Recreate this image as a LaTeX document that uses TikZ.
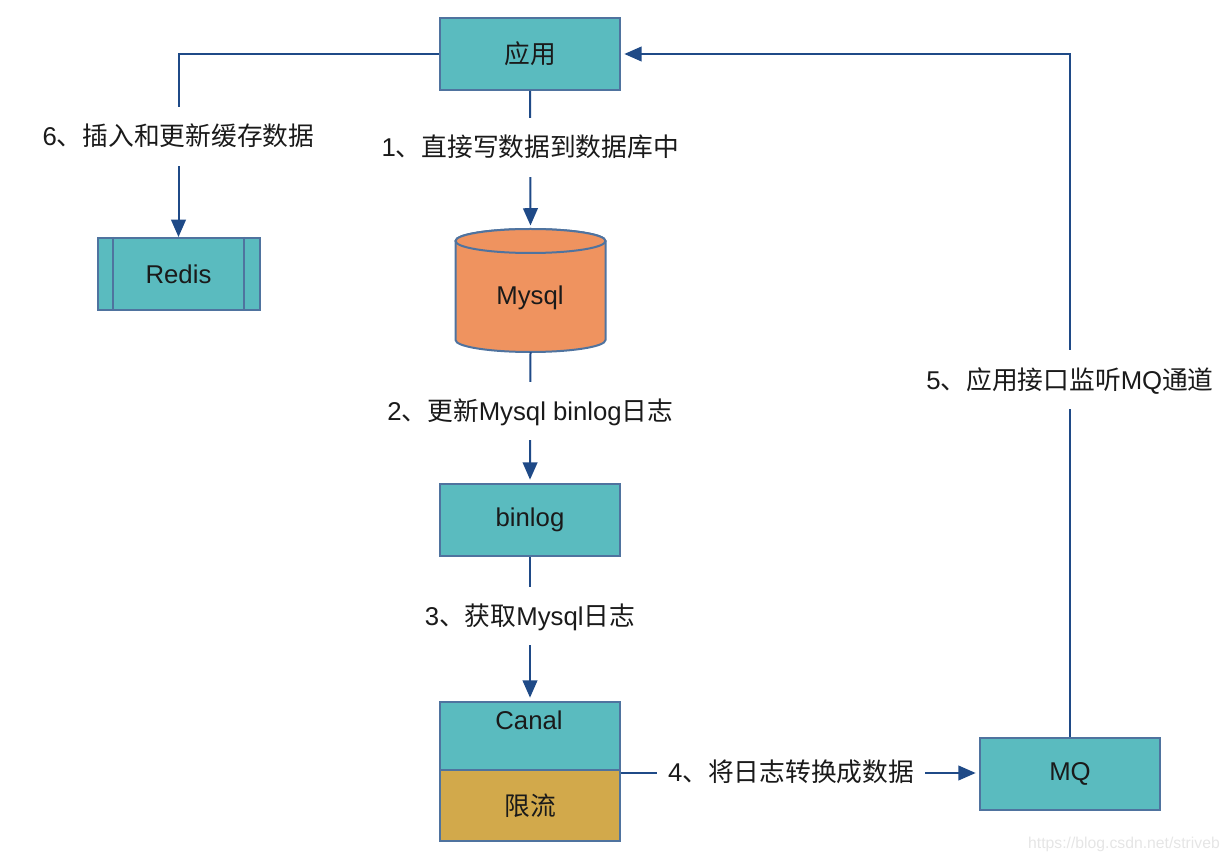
\documentclass[tikz,border=0pt]{standalone}
\usepackage{fontspec}
\setmainfont{Liberation Sans}
\newfontfamily\cjk{Noto Sans CJK SC}
\usetikzlibrary{arrows.meta,calc}
\definecolor{teal1}{HTML}{5ABBBF}
\definecolor{orange1}{HTML}{EF935F}
\definecolor{gold1}{HTML}{D2A94B}
\definecolor{edge1}{HTML}{4F739F}
\definecolor{arrow1}{HTML}{1F4A87}
\definecolor{text1}{HTML}{1A1A1A}
\tikzset{
  x=0.75pt,y=-0.75pt,
  every node/.style={font=\fontsize{19.3}{23}\selectfont,text=text1},
  box/.style={draw=edge1,line width=1.5pt,fill=teal1,minimum width=135pt,minimum height=54pt,inner sep=0pt},
  conn/.style={draw=arrow1,line width=1.5pt,-{Triangle[length=13pt,width=11pt]},shorten >=2.5pt},
  lab/.style={fill=white,text height=29pt,text depth=15pt,inner xsep=8.5pt,inner ysep=0pt},
  cyl/.style={draw=edge1,line width=1.5pt,fill=orange1},
}
\begin{document}
\begin{tikzpicture}
\useasboundingbox (0,0) rectangle (1228,862);
\node[box] (app) at (530,54) {\cjk 应用};
\node[box,minimum width=121.5pt] (redis) at (178.5,274) {Redis};
\draw[edge1,line width=1.5pt] ($(redis.north west)+(16,0)$) -- ($(redis.south west)+(16,0)$);
\draw[edge1,line width=1.5pt] ($(redis.north east)+(-17,0)$) -- ($(redis.south east)+(-17,0)$);
% Mysql cylinder
\draw[cyl] (455.5,241) -- (455.5,340) arc[start angle=180,end angle=360,x radius=56.25pt,y radius=9pt] -- (605.5,241) arc[start angle=0,end angle=180,x radius=56.25pt,y radius=9pt] -- cycle;
\draw[cyl] (530.5,241) ellipse [x radius=56.25pt,y radius=9pt];
\node[minimum width=112.5pt,minimum height=92pt,inner sep=0pt] (mysql) at (530.5,290.5) {};
\node (mysqltext) at (530,298) {Mysql};
\node[box] (binlog) at (530,520) {binlog};
\node[box,minimum height=51pt] (canal) at (530,736) {};
\node (canaltext) at (529,720) {Canal};
\node[box,fill=gold1,minimum height=53pt] (limit) at (530,805.5) {\cjk 限流};
\node[box] (mq) at (1070,774) {MQ};
\coordinate (redisturn) at (app.west -| redis.north);
\coordinate (mqturn) at (mq.north |- app.east);
\coordinate (canalout) at ($(canal.south east)+(0,2)$);
\draw[conn,shorten >=0pt] (app.west) -- (redisturn) -- node[lab,pos=0.451] (l6) {6{\cjk 、插入和更新缓存数据}} (redis.north);
\draw[conn] (app.south) -- node[lab,pos=0.41] (l1) {1{\cjk 、直接写数据到数据库中}} (mysql.north);
\draw[conn] (mysql.south) -- node[lab,pos=0.451] (l2) {2{\cjk 、更新}Mysql binlog{\cjk 日志}} (binlog.north);
\draw[conn] (binlog.south) -- node[lab,pos=0.41] (l3) {3{\cjk 、获取}Mysql{\cjk 日志}} (canal.north);
\draw[conn] (canalout) -- node[lab,pos=0.475,text height=20pt,text depth=8pt] (l4) {4{\cjk 、将日志转换成数据}} (canalout -| mq.west);
\draw[conn] (mq.north) -- node[lab,pos=0.523] (l5) {5{\cjk 、应用接口监听}MQ{\cjk 通道}} (mqturn) -- (app.east);
\node[font=\fontsize{11.8}{14}\selectfont,text=black!10] (mark) at (1124,844) {https://blog.csdn.net/striveb};
\end{tikzpicture}
\end{document}
